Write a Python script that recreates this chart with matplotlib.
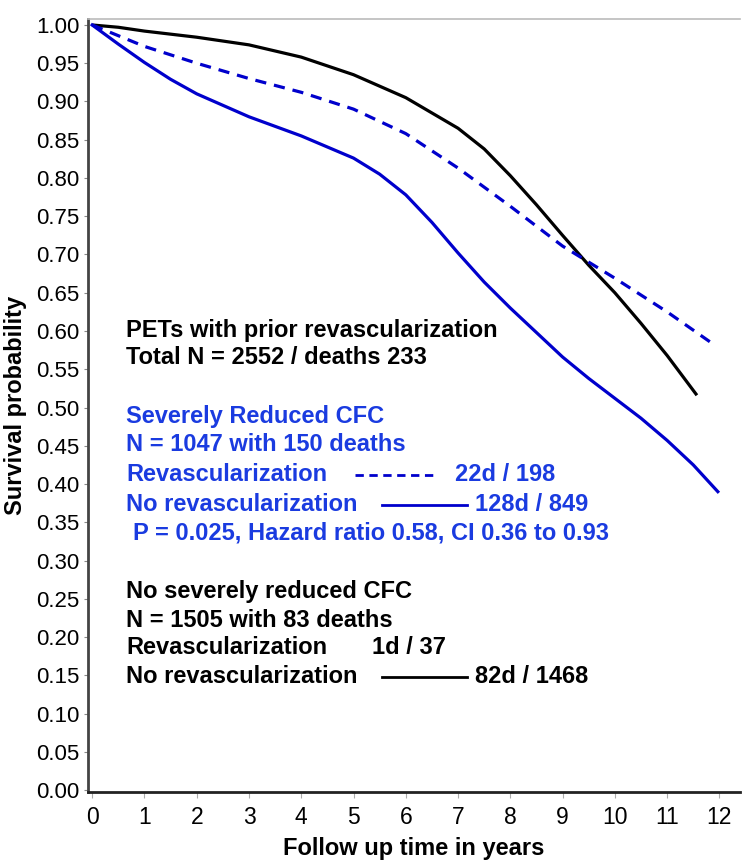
import matplotlib
matplotlib.use("Agg")
import matplotlib.pyplot as plt
import numpy as np

plt.rcParams['font.family'] = ['Liberation Sans', 'DejaVu Sans']

# ---- data ----
x_black = [0, 0.5, 1, 2, 3, 4, 5, 6, 7, 7.5, 8, 8.5, 9, 9.5, 10, 10.5, 11, 11.57]
y_black = [1.0, 0.997, 0.992, 0.984, 0.974, 0.958, 0.935, 0.905, 0.865, 0.838,
           0.803, 0.765, 0.725, 0.686, 0.650, 0.610, 0.568, 0.516]

x_dash = [0, 1, 2, 3, 4, 5, 6, 7, 8, 9, 10, 11, 11.9]
y_dash = [1.0, 0.972, 0.950, 0.930, 0.912, 0.890, 0.858, 0.813, 0.763, 0.711,
          0.669, 0.625, 0.582]

x_solid = [0, 0.5, 1, 1.5, 2, 3, 4, 5, 5.5, 6, 6.5, 7, 7.5, 8, 8.5, 9, 9.5,
           10, 10.5, 11, 11.5, 11.97]
y_solid = [1.0, 0.975, 0.951, 0.929, 0.910, 0.880, 0.855, 0.826, 0.805, 0.778,
           0.742, 0.702, 0.664, 0.630, 0.598, 0.566, 0.538, 0.512, 0.486,
           0.457, 0.425, 0.390]

xticks = list(range(0, 13))
yticks = [round(0.05 * i, 2) for i in range(21)]

blue_line = '#0000cc'
blue_text = '#1a3be0'

fig = plt.figure(figsize=(7.42, 8.64), dpi=100)
ax = fig.add_axes([0.1186, 0.0833, 0.8784, 0.8947])

ax.plot(x_black, y_black, color='black', lw=2.3, solid_capstyle='butt')
ax.plot(x_dash, y_dash, color=blue_line, lw=2.3, dashes=(3.5, 2.5))
ax.plot(x_solid, y_solid, color=blue_line, lw=2.3)

ax.set_xlim(-0.08, 12.39)
ax.set_ylim(-0.0026, 1.0078)
ax.set_xticks(xticks)
ax.set_xticklabels([str(t) for t in xticks], fontsize=16.5)
ax.set_yticks(yticks)
ax.set_yticklabels([f"{t:.2f}" for t in yticks], fontsize=16)

ax.spines['right'].set_visible(False)
ax.spines['top'].set_color('#bbbbbb')
ax.spines['top'].set_linewidth(1.2)
ax.spines['left'].set_color('#444444')
ax.spines['left'].set_linewidth(2)
ax.spines['bottom'].set_color('#222222')
ax.spines['bottom'].set_linewidth(2)
ax.tick_params(axis='y', length=3, width=0.8, color='#888888', pad=3)
ax.tick_params(axis='x', length=4, width=0.8, color='#aaaaaa', pad=6)

ax.set_xlabel('Follow up time in years', fontsize=17, fontweight='bold', labelpad=6)
ax.set_ylabel('Survival probability', fontsize=17, fontweight='bold')
ax.yaxis.set_label_coords(-0.094, 0.5)

fs = 17
tx = 0.65
lines = [
    (0.601, 'PETs with prior revascularization', 'black', tx),
    (0.565, 'Total N = 2552 / deaths 233', 'black', tx),
    (0.488, 'Severely Reduced CFC', blue_text, tx),
    (0.451, 'N = 1047 with 150 deaths', blue_text, tx),
    (0.412, 'Revascularization', blue_text, tx),
    (0.373, 'No revascularization', blue_text, tx),
    (0.336, 'P = 0.025, Hazard ratio 0.58, CI 0.36 to 0.93', blue_text, tx + 0.14),
    (0.259, 'No severely reduced CFC', 'black', tx),
    (0.221, 'N = 1505 with 83 deaths', 'black', tx),
    (0.186, 'Revascularization', 'black', tx),
    (0.148, 'No revascularization', 'black', tx),
]
for yv, s, c, xv in lines:
    ax.text(xv, yv, s, color=c, fontsize=fs, fontweight='bold', va='center', ha='left')

# counts
ax.text(6.94, 0.412, '22d / 198', color=blue_text, fontsize=fs, fontweight='bold', va='center')
ax.text(7.32, 0.373, '128d / 849', color=blue_text, fontsize=fs, fontweight='bold', va='center')
ax.text(5.35, 0.186, '1d / 37', color='black', fontsize=fs, fontweight='bold', va='center')
ax.text(7.32, 0.148, '82d / 1468', color='black', fontsize=fs, fontweight='bold', va='center')

# legend line samples
ax.plot([5.03, 6.62], [0.412, 0.412], color=blue_line, lw=2, dashes=(3, 2))
ax.plot([5.55, 7.17], [0.373, 0.373], color=blue_line, lw=2)
ax.plot([5.55, 7.17], [0.148, 0.148], color='black', lw=2)

fig.savefig('out.png', dpi=100)
